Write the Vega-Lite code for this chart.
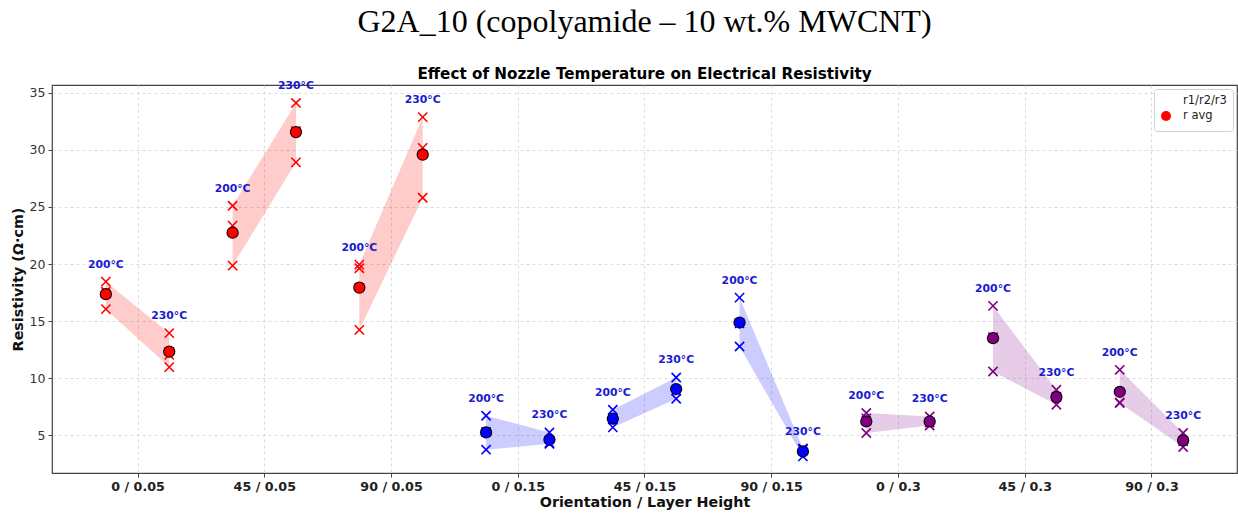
{
  "$schema": "https://vega.github.io/schema/vega-lite/v6.json",
  "autosize": "none",
  "padding": {"left": 52, "top": 85, "right": 1, "bottom": 42},
  "width": 1185,
  "height": 388,
  "title": {
    "text": "G2A_10 (copolyamide – 10 wt.% MWCNT)",
    "subtitle": "Effect of Nozzle Temperature on Electrical Resistivity",
    "font": "Liberation Serif",
    "fontSize": 32,
    "fontWeight": "normal",
    "color": "black",
    "subtitleFont": "DejaVu Sans",
    "subtitleFontSize": 15.2,
    "subtitleFontWeight": "bold",
    "subtitleColor": "black",
    "subtitlePadding": 28,
    "offset": -3,
    "anchor": "middle"
  },
  "data": {
    "values": [
      {"cfg": "0 / 0.05", "gi": 0, "lh": "0.05", "temp": 200, "r1": 18.46, "r2": 17.57, "r3": 16.05, "avg": 17.36},
      {"cfg": "0 / 0.05", "gi": 0, "lh": "0.05", "temp": 230, "r1": 13.95, "r2": 12.05, "r3": 10.98, "avg": 12.34},
      {"cfg": "45 / 0.05", "gi": 1, "lh": "0.05", "temp": 200, "r1": 25.1, "r2": 23.36, "r3": 19.86, "avg": 22.74},
      {"cfg": "45 / 0.05", "gi": 1, "lh": "0.05", "temp": 230, "r1": 34.1, "r2": 31.65, "r3": 28.9, "avg": 31.55},
      {"cfg": "90 / 0.05", "gi": 2, "lh": "0.05", "temp": 200, "r1": 19.95, "r2": 19.63, "r3": 14.24, "avg": 17.94},
      {"cfg": "90 / 0.05", "gi": 2, "lh": "0.05", "temp": 230, "r1": 32.86, "r2": 30.17, "r3": 25.8, "avg": 29.58},
      {"cfg": "0 / 0.15", "gi": 3, "lh": "0.15", "temp": 200, "r1": 6.72, "r2": 5.31, "r3": 3.75, "avg": 5.26},
      {"cfg": "0 / 0.15", "gi": 3, "lh": "0.15", "temp": 230, "r1": 5.26, "r2": 4.34, "r3": 4.26, "avg": 4.62},
      {"cfg": "45 / 0.15", "gi": 4, "lh": "0.15", "temp": 200, "r1": 7.25, "r2": 6.43, "r3": 5.7, "avg": 6.46},
      {"cfg": "45 / 0.15", "gi": 4, "lh": "0.15", "temp": 230, "r1": 10.07, "r2": 8.9, "r3": 8.21, "avg": 9.06},
      {"cfg": "90 / 0.15", "gi": 5, "lh": "0.15", "temp": 200, "r1": 17.06, "r2": 14.8, "r3": 12.78, "avg": 14.88},
      {"cfg": "90 / 0.15", "gi": 5, "lh": "0.15", "temp": 230, "r1": 3.85, "r2": 3.79, "r3": 3.16, "avg": 3.6},
      {"cfg": "0 / 0.3", "gi": 6, "lh": "0.3", "temp": 200, "r1": 6.96, "r2": 6.49, "r3": 5.21, "avg": 6.22},
      {"cfg": "0 / 0.3", "gi": 6, "lh": "0.3", "temp": 230, "r1": 6.66, "r2": 6.13, "r3": 5.87, "avg": 6.22},
      {"cfg": "45 / 0.3", "gi": 7, "lh": "0.3", "temp": 200, "r1": 16.34, "r2": 13.6, "r3": 10.59, "avg": 13.51},
      {"cfg": "45 / 0.3", "gi": 7, "lh": "0.3", "temp": 230, "r1": 9.0, "r2": 8.4, "r3": 7.68, "avg": 8.36},
      {"cfg": "90 / 0.3", "gi": 8, "lh": "0.3", "temp": 200, "r1": 10.74, "r2": 7.89, "r3": 7.83, "avg": 8.82},
      {"cfg": "90 / 0.3", "gi": 8, "lh": "0.3", "temp": 230, "r1": 5.21, "r2": 4.48, "r3": 3.99, "avg": 4.56}
    ]
  },
  "transform": [
    {"calculate": "datum.gi + (datum.temp == 230 ? 0.25 : -0.25)", "as": "xpos"},
    {"calculate": "min(datum.r1, datum.r2, datum.r3)", "as": "lo"},
    {"calculate": "max(datum.r1, datum.r2, datum.r3)", "as": "hi"},
    {"calculate": "datum.temp + '°C'", "as": "tlabel"}
  ],
  "encoding": {
    "x": {
      "field": "xpos",
      "type": "quantitative",
      "scale": {"domain": [-0.675, 8.675], "nice": false, "zero": false},
      "axis": {
        "title": "Orientation / Layer Height",
        "values": [0, 1, 2, 3, 4, 5, 6, 7, 8],
        "labelExpr": "['0 / 0.05','45 / 0.05','90 / 0.05','0 / 0.15','45 / 0.15','90 / 0.15','0 / 0.3','45 / 0.3','90 / 0.3'][datum.value]",
        "labelFont": "DejaVu Sans",
        "labelFontSize": 12.7,
        "labelFontWeight": "bold",
        "labelColor": "#222",
        "labelPadding": 3,
        "titleFont": "DejaVu Sans",
        "titleFontSize": 14.3,
        "titleFontWeight": "bold",
        "titleColor": "#111",
        "titlePadding": 3
      }
    }
  },
  "layer": [
    {
      "mark": {"type": "area", "orient": "vertical", "fillOpacity": 0.2, "strokeOpacity": 0.25, "strokeWidth": 1, "interpolate": "linear"},
      "encoding": {
        "y": {
          "field": "lo",
          "type": "quantitative",
          "stack": null,
          "scale": {"domain": [1.71, 35.67], "nice": false, "zero": false},
          "axis": {
            "title": "Resistivity (Ω·cm)",
            "values": [5, 10, 15, 20, 25, 30, 35],
            "labelFont": "DejaVu Sans",
            "labelFontSize": 12.5,
            "labelColor": "#333",
            "labelPadding": 3,
            "titleFont": "DejaVu Sans",
            "titleFontSize": 14.3,
            "titleFontWeight": "bold",
            "titleColor": "#111",
            "titlePadding": 4
          }
        },
        "y2": {"field": "hi"},
        "color": {
          "field": "lh",
          "type": "nominal",
          "scale": {"domain": ["0.05", "0.15", "0.3"], "range": ["#ff0000", "#0000ff", "#800080"]},
          "legend": null
        },
        "detail": {"field": "cfg", "type": "nominal"}
      }
    },
    {
      "transform": [{"fold": ["r1", "r2", "r3"], "as": ["rk", "rv"]}],
      "mark": {"type": "point", "filled": true, "strokeWidth": 1.6, "size": 85, "opacity": 1},
      "encoding": {
        "y": {"field": "rv", "type": "quantitative"},
        "color": {"field": "lh", "type": "nominal", "legend": null},
        "stroke": {
          "field": "lh",
          "type": "nominal",
          "scale": {"domain": ["0.05", "0.15", "0.3"], "range": ["#ff0000", "#0000ff", "#800080"]},
          "legend": null
        },
        "shape": {
          "datum": "r1/r2/r3",
          "type": "nominal",
          "scale": {"domain": ["r1/r2/r3", "r avg"], "range": ["M-1,-1L1,1M-1,1L1,-1", "circle"]},
          "legend": {
            "title": null,
            "orient": "top-right",
            "offset": 4,
            "padding": 6,
            "fillColor": "white",
            "strokeColor": "#d0d0d0",
            "cornerRadius": 3,
            "labelFont": "DejaVu Sans",
            "labelFontSize": 11.5,
            "labelColor": "#222",
            "labelOffset": 11,
            "symbolSize": 100,
            "symbolFillColor": "#ff0000",
            "symbolStrokeColor": "#ff0000",
            "symbolStrokeWidth": 1.6,
            "symbolOpacity": 1,
            "rowPadding": -3
          }
        }
      }
    },
    {
      "mark": {"type": "point", "shape": "circle", "filled": true, "size": 150, "color": "black", "opacity": 1},
      "encoding": {
        "y": {"field": "avg", "type": "quantitative"}
      }
    },
    {
      "mark": {"type": "point", "filled": true, "size": 105, "strokeWidth": 0, "opacity": 1},
      "encoding": {
        "y": {"field": "avg", "type": "quantitative"},
        "color": {"field": "lh", "type": "nominal", "legend": null},
        "shape": {"datum": "r avg", "type": "nominal"}
      }
    },
    {
      "mark": {"type": "text", "font": "DejaVu Sans", "fontSize": 10.8, "fontWeight": "bold", "color": "#1a1ad0", "baseline": "middle", "align": "center", "dy": -17},
      "encoding": {
        "y": {"field": "hi", "type": "quantitative"},
        "text": {"field": "tlabel"}
      }
    }
  ],
  "config": {
    "view": {"stroke": "#444", "strokeWidth": 1.2},
    "legend": {
      "symbolBaseFillColor": "#ff0000",
      "symbolBaseStrokeColor": "#ff0000"
    },
    "axis": {
      "domain": false,
      "grid": true,
      "gridColor": "#d4d4d4",
      "gridDash": [3, 3],
      "gridWidth": 0.8,
      "tickColor": "#444",
      "tickSize": 4
    }
  }
}
